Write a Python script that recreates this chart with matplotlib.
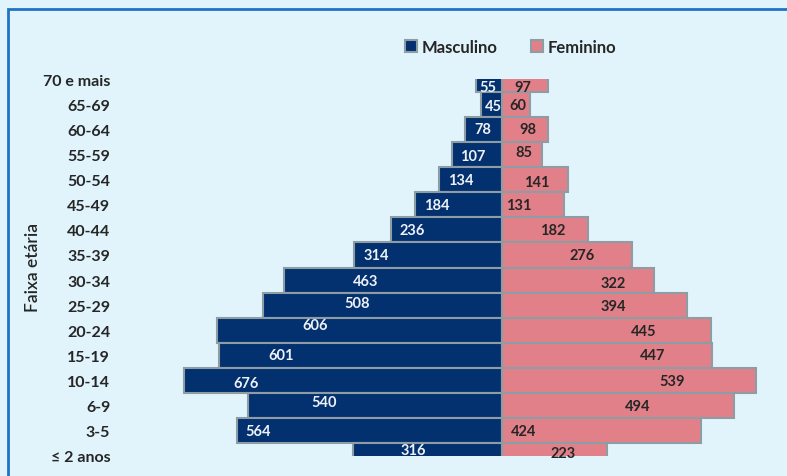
import numpy as np
import matplotlib.pyplot as plt
from matplotlib.patches import Rectangle

""" data """
faixas = ['70 e mais', '65-69', '60-64', '55-59', '50-54', '45-49', '40-44', '35-39',
          '30-34', '25-29', '20-24', '15-19', '10-14', '6-9', '3-5', '\u2264 2 anos']
masculino = [55, 45, 78, 107, 134, 184, 236, 314, 463, 508, 606, 601, 676, 540, 564, 316]
feminino = [97, 60, 98, 85, 141, 131, 182, 276, 322, 394, 445, 447, 539, 494, 424, 223]

# where the data labels sit (value units along x, row offset along y)
lab_m_x = [-30, -19, -40, -62, -87, -138, -191, -268, -289, -308, -397, -470, -544, -378, -519, -189]
lab_m_dy = [0.32, 0.08, 0, 0.06, 0, 0, 0, 0, 0.04, -0.08, -0.2, 0, 0.1, -0.15, 0, -0.24]
lab_f_x = [45, 34, 55, 47, 74, 36, 108, 170, 236, 236, 300, 319, 361, 289, 45, 130]
lab_f_dy = [0.32, 0.04, 0, -0.1, 0.1, 0, 0, 0, 0.12, 0.03, 0.03, 0, 0, 0, 0, -0.12]

""" style """
bg = '#E1F4FC'
c_masc = '#03306F'
c_fem = '#E2808A'
c_edge = '#8E9CA3'
plt.rcParams['font.family'] = ['Lato', 'DejaVu Sans']

fig = plt.figure(figsize=(7.87, 4.77), dpi=100, facecolor=bg)
W, H = 787, 477
# outer frame
fig.patches.append(Rectangle((8 / W, -0.1), 1.2, 1 - 10 / H + 0.1, transform=fig.transFigure,
                             fill=False, edgecolor='#1F72C8', linewidth=2))

ax = fig.add_axes([120 / W, 1 - 457 / H, (780 - 120) / W, (457 - 80) / H])
ax.set_facecolor(bg)

y = np.arange(len(faixas))
ax.barh(y, -np.array(masculino), height=1.0, color=c_masc, edgecolor=c_edge, linewidth=1.5, label='Masculino')
ax.barh(y, feminino, height=1.0, color=c_fem, edgecolor=c_edge, linewidth=1.5, label='Feminino')

for i in range(len(faixas)):
    ax.text(lab_m_x[i], y[i] + lab_m_dy[i], str(masculino[i]), ha='center', va='center',
            fontsize=10.5, fontweight='bold', color='#EEF2F8')
    ax.text(lab_f_x[i], y[i] + lab_f_dy[i], str(feminino[i]), ha='center', va='center',
            fontsize=10.5, fontweight='bold', color='#262626')

scale = 0.4705  # px per person
ax.set_xlim((120 - 502) / scale, (780 - 502) / scale)
ax.set_ylim(len(faixas) - 1, 0)
ax.set_yticks(y)
ax.set_yticklabels(faixas, fontsize=11.5, fontweight='bold', color='#262626')
ax.tick_params(axis='y', length=0, pad=7)
ax.set_xticks([])
for s in ax.spines.values():
    s.set_visible(False)

fig.text(33 / W, 1 - 268 / H, 'Faixa etária', rotation=90, ha='center', va='center',
         fontsize=12.5, fontweight='semibold', color='#262626')

leg = fig.legend(loc='center', bbox_to_anchor=(511 / W, 1 - 48 / H), ncol=2, frameon=False,
                 handlelength=0.7, handleheight=0.7, handletextpad=0.3, columnspacing=2.0,
                 prop={'size': 12, 'weight': 'bold'})
for t in leg.get_texts():
    t.set_color('#262626')

fig.savefig('out.png', dpi=100, facecolor=bg)
